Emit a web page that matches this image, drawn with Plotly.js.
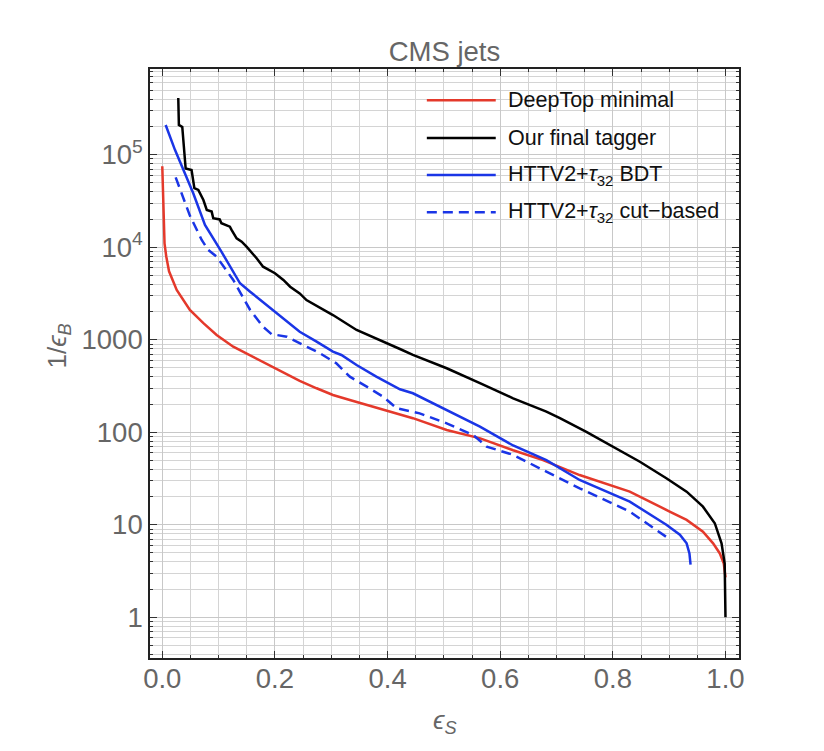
<!DOCTYPE html>
<html><head><meta charset="utf-8">
<script src="https://cdn.plot.ly/plotly-3.0.1.min.js"></script>
<style>html,body{margin:0;padding:0;background:#fff}#chart{width:824px;height:751px}</style>
</head><body><div id="chart"></div>
<script>
// ---- data ----
const chartTitle = "CMS jets";
const seriesNames = ["DeepTop minimal", "Our final tagger", "HTTV2+<i>τ</i><sub>32</sub> BDT", "HTTV2+<i>τ</i><sub>32</sub> cut−based"];

const deepTopX = [0.0, 0.001, 0.002, 0.004, 0.007, 0.012, 0.0256, 0.037, 0.049, 0.073, 0.0965, 0.126, 0.156, 0.191, 0.215, 0.244, 0.274, 0.303, 0.333, 0.363, 0.392, 0.422, 0.445, 0.505, 0.5645, 0.623, 0.676, 0.741, 0.8, 0.83, 0.9, 0.931, 0.96, 0.978, 0.99, 0.997, 1.0];
const deepTopY = [75000, 40000, 20000, 11000, 8000, 5500, 3460, 2690, 2100, 1510, 1127, 842, 680, 534, 450, 360, 299, 253, 223, 197, 174, 154, 142, 106, 86, 64, 50, 34.5, 26, 22.8, 14, 11.3, 8.4, 6.3, 4.9, 3.8, 2.7];

const finalX = [0.0284, 0.0295, 0.0355, 0.039, 0.0415, 0.052, 0.057, 0.064, 0.073, 0.079, 0.0877, 0.0905, 0.102, 0.105, 0.12, 0.123, 0.132, 0.141, 0.15, 0.1675, 0.179, 0.2, 0.215, 0.227, 0.244, 0.256, 0.303, 0.345, 0.38, 0.422, 0.445, 0.505, 0.564, 0.623, 0.682, 0.706, 0.753, 0.8, 0.848, 0.895, 0.931, 0.96, 0.981, 0.993, 0.9986, 1.0];
const finalY = [410000, 210000, 200000, 113000, 71000, 68500, 43500, 41700, 32400, 25300, 24300, 20600, 20000, 18200, 16700, 15400, 12500, 11500, 10100, 7600, 6170, 5240, 4430, 3750, 3170, 2690, 1850, 1276, 1038, 795, 685, 492, 339, 233, 167, 142, 101, 70, 48, 31.8, 22.8, 15.7, 10.4, 6.3, 3.8, 1.0];

const bdtX = [0.006, 0.0225, 0.055, 0.0758, 0.105, 0.138, 0.156, 0.185, 0.215, 0.244, 0.274, 0.303, 0.318, 0.345, 0.38, 0.422, 0.445, 0.505, 0.564, 0.623, 0.682, 0.741, 0.83, 0.895, 0.919, 0.931, 0.936, 0.938];
const bdtY = [210000, 113000, 38400, 17400, 8970, 4080, 3310, 2380, 1710, 1220, 955, 744, 685, 534, 399, 292, 264, 174, 115, 72, 50, 30.5, 17.8, 10, 7.8, 6.3, 4.9, 3.7];

const cutX = [0.0238, 0.049, 0.07, 0.0816, 0.0965, 0.114, 0.126, 0.138, 0.156, 0.179, 0.194, 0.221, 0.25, 0.28, 0.309, 0.333, 0.363, 0.392, 0.416, 0.457, 0.505, 0.552, 0.576, 0.623, 0.682, 0.741, 0.83, 0.895];
const cutY = [57000, 22000, 12000, 9350, 7900, 5500, 4430, 3280, 2100, 1380, 1150, 1080, 879, 714, 557, 399, 311, 243, 182, 160, 125, 93.5, 70, 57, 37.5, 24.8, 13.9, 7.4];

const xTickVals = [0, 0.2, 0.4, 0.6, 0.8, 1.0];
const xTickText = ["0.0", "0.2", "0.4", "0.6", "0.8", "1.0"];
const yTickVals = [1, 10, 100, 1000, 10000, 100000];
const yTickText = ["1", "10", "100", "1000", "10<sup>4</sup>", "10<sup>5</sup>"];

// ---- styling ----
const RED = "#e4392b", BLACK = "#000000", BLUE = "#1a35e6";
const colors = [RED, BLACK, BLUE, BLUE];
const dashes = ["solid", "solid", "solid", "10px,6px"];
const FONT = "Liberation Sans, Arial, Helvetica, sans-serif";
const GRAY = "#666666";

const yMinor = [];
for (let k = -1; k <= 5; k++) for (let m = 2; m <= 9; m++) yMinor.push(m * Math.pow(10, k));

const xs = [deepTopX, finalX, bdtX, cutX];
const ys = [deepTopY, finalY, bdtY, cutY];
const traces = xs.map((x, i) => ({
  x: x, y: ys[i], type: "scatter", mode: "lines", name: seriesNames[i],
  line: {color: colors[i], width: 2.5, dash: dashes[i]}, showlegend: false
}));

// custom legend (long line samples like the reference)
const legY = [0.947, 0.883, 0.820, 0.757];
const shapes = [], annotations = [];
legY.forEach((yy, i) => {
  shapes.push({type: "line", xref: "paper", yref: "paper", x0: 0.470, x1: 0.587, y0: yy, y1: yy,
    line: {color: colors[i], width: 2.5, dash: dashes[i]}});
  annotations.push({xref: "paper", yref: "paper", x: 0.604, y: yy, xanchor: "left", yanchor: "middle",
    text: seriesNames[i], showarrow: false, font: {family: FONT, size: 21.5, color: "#111"}});
});
annotations.push({xref: "paper", yref: "paper", x: -0.155, y: 0.53, text: "1/<i>ϵ</i><sub><i>B</i></sub>",
  textangle: -90, showarrow: false, xanchor: "center", yanchor: "middle", font: {family: FONT, size: 26, color: GRAY}});
annotations.push({xref: "paper", yref: "paper", x: 0.5, y: -0.108, text: "<i>ϵ</i><sub><i>S</i></sub>",
  showarrow: false, xanchor: "center", yanchor: "middle", font: {family: FONT, size: 26, color: GRAY}});

const layout = {
  width: 824, height: 751,
  margin: {l: 150, r: 85, t: 69, b: 93},
  paper_bgcolor: "#ffffff", plot_bgcolor: "#ffffff",
  title: {text: chartTitle, xref: "paper", x: 0.5, xanchor: "center", yref: "container", y: 0.931, yanchor: "middle",
    font: {family: FONT, size: 27.5, color: GRAY}},
  xaxis: {
    range: [-0.0218, 1.024], tickmode: "array", tickvals: xTickVals, ticktext: xTickText,
    ticks: "inside", ticklen: 7, tickwidth: 1, tickcolor: "#333", ticklabelstandoff: -5,
    showline: true, linecolor: "#222", linewidth: 1.8, mirror: "ticks",
    showgrid: true, gridcolor: "#c8c8c8", gridwidth: 1, zeroline: false,
    tickfont: {family: FONT, size: 27.5, color: GRAY},
    minor: {dtick: 0.05, tick0: 0, ticks: "inside", ticklen: 3, tickcolor: "#333", showgrid: true, gridcolor: "#d4d4d4", gridwidth: 1}
  },
  yaxis: {
    type: "log", range: [-0.44, 5.927], tickmode: "array", tickvals: yTickVals, ticktext: yTickText,
    ticks: "inside", ticklen: 7, tickwidth: 1, tickcolor: "#333",
    showline: true, linecolor: "#222", linewidth: 1.8, mirror: "ticks",
    showgrid: true, gridcolor: "#c8c8c8", gridwidth: 1, zeroline: false,
    tickfont: {family: FONT, size: 27.5, color: GRAY},
    minor: {tickmode: "array", tickvals: yMinor, ticks: "inside", ticklen: 3, tickcolor: "#333", showgrid: true, gridcolor: "#d4d4d4", gridwidth: 1}
  },
  shapes: shapes, annotations: annotations, showlegend: false
};

Plotly.newPlot("chart", traces, layout, {displayModeBar: false, staticPlot: true});
</script>
</body></html>
